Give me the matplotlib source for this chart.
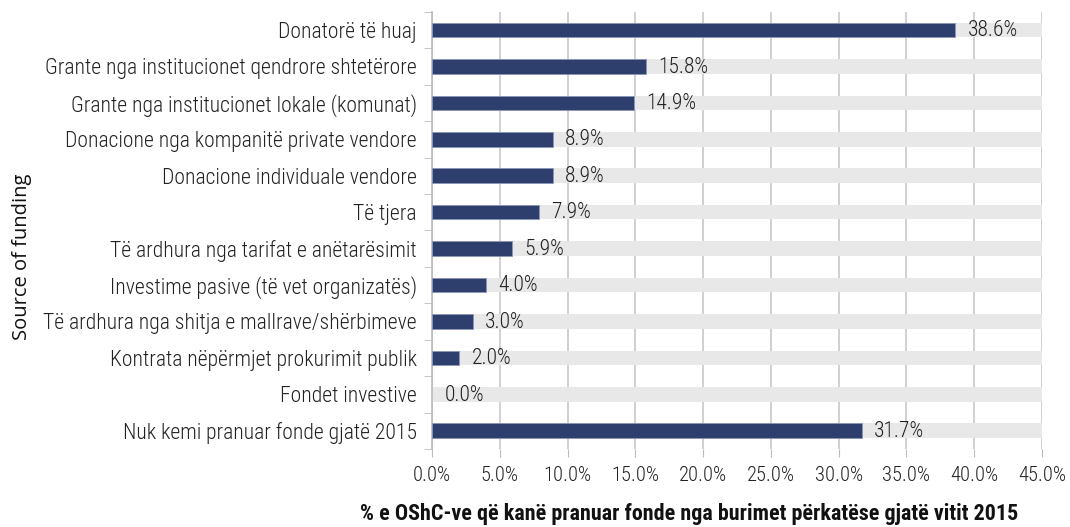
import matplotlib
matplotlib.use("Agg")
import matplotlib.pyplot as plt
from matplotlib import font_manager

categories = [
    "Donatorë të huaj",
    "Grante nga institucionet qendrore shtetërore",
    "Grante nga institucionet lokale (komunat)",
    "Donacione nga kompanitë private vendore",
    "Donacione individuale vendore",
    "Të tjera",
    "Të ardhura nga tarifat e anëtarësimit",
    "Investime pasive (të vet organizatës)",
    "Të ardhura nga shitja e mallrave/shërbimeve",
    "Kontrata nëpërmjet prokurimit publik",
    "Fondet investive",
    "Nuk kemi pranuar fonde gjatë 2015",
]
values = [38.6, 15.8, 14.9, 8.9, 8.9, 7.9, 5.9, 4.0, 3.0, 2.0, 0.0, 31.7]
xticks = [0, 5, 10, 15, 20, 25, 30, 35, 40, 45]
xmax = 45

names = {f.name for f in font_manager.fontManager.ttflist}
fam = [f for f in ["Roboto Condensed", "Roboto"] if f in names] + ["DejaVu Sans"]
plt.rcParams['font.family'] = fam
plt.rcParams['font.weight'] = 'light'

fig = plt.figure(figsize=(10.7, 5.27), dpi=100)
ax = fig.add_axes([0.4037, 0.148, 0.5701, 0.8297])

n = len(categories)
ypos = list(range(n))
bh = 0.40
ax.barh(ypos, [xmax] * n, height=bh, color="#e8e8e8", zorder=1)
ax.barh(ypos, values, height=bh, color="#2e3f6e",
        edgecolor=["#8a96b8" if v > 0 else "none" for v in values], linewidth=0.6, zorder=3)
for y, v in zip(ypos, values):
    ax.annotate(f"{v:.1f}%", (v, y), xytext=(9, -0.5), textcoords="offset points",
                va="center", ha="left", fontsize=15.5, color="#222222", zorder=4)

ax.set_ylim(n - 0.5, -0.5)
ax.set_xlim(0, xmax)
ax.set_xticks(xticks)
ax.set_xticklabels([f"{t:.1f}%" for t in xticks], fontsize=14.8, color="#222222")
ax.set_yticks(ypos)
ax.set_yticklabels(categories, fontsize=15.6, color="#222222")
ax.tick_params(axis='y', length=0, pad=11)
ax.set_yticks([i - 0.5 for i in range(n + 1)], minor=True)
ax.tick_params(axis='y', which='minor', length=6, color="#bbbbbb", direction='out')
ax.tick_params(axis='x', length=6, color="#bbbbbb", pad=6)
ax.grid(axis='x', color="#c8c8c8", linewidth=1.2, zorder=0)
ax.set_axisbelow(True)
for s in ["top", "right", "bottom"]:
    ax.spines[s].set_visible(False)
ax.spines["left"].set_color("#bbbbbb")
ax.spines["left"].set_linewidth(1.2)

fig.text(0.644, 0.025, "% e OShC-ve që kanë pranuar fonde nga burimet përkatëse gjatë vitit 2015",
         fontsize=15.8, fontweight="bold", color="#111111", ha="center", va="center")
fig.text(0.021, 0.512, "Source of funding", rotation=90, va="center", ha="center",
         fontsize=14.5, fontweight="normal", color="#111111", family=["Open Sans", "DejaVu Sans"])

fig.savefig("out.png", dpi=100)
